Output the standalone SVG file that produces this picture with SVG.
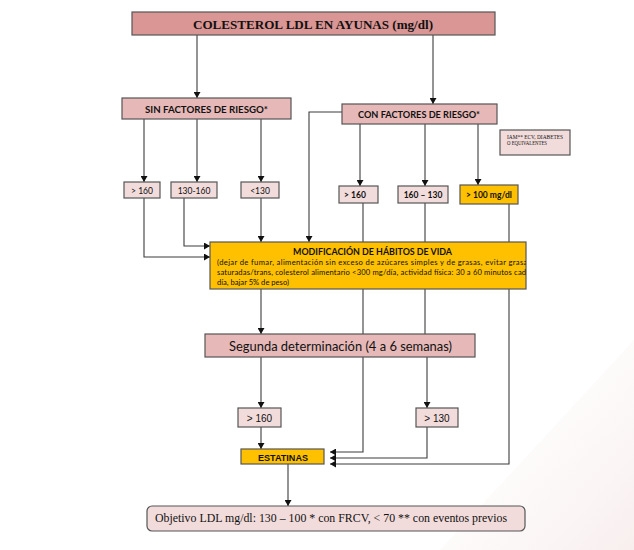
<svg xmlns="http://www.w3.org/2000/svg" width="634" height="550" viewBox="0 0 634 550">
<defs>
<marker id="ah" markerUnits="userSpaceOnUse" markerWidth="7" markerHeight="7" refX="6" refY="3.5" orient="auto">
<path d="M0,0 L6,3.5 L0,7 z" fill="#111"/>
</marker>
<linearGradient id="bg" x1="0.3" y1="0.3" x2="1" y2="1">
<stop offset="0" stop-color="#fdf9f9" stop-opacity="0.3"/>
<stop offset="1" stop-color="#f8eeee"/>
</linearGradient>
<clipPath id="mclip"><rect x="210" y="242" width="316" height="47"/></clipPath>
</defs>
<style>
.c{fill:none;stroke:#3c3c3c;stroke-width:1.1}
.a{marker-end:url(#ah)}
.bx{stroke:#555;stroke-width:1.2}
.t1{fill:#d99694}
.t2{fill:#e6b9b8}
.t3{fill:#f2dcdb}
.or{fill:#ffc000}
.cal{font-family:Lato,"Open Sans","Liberation Sans",sans-serif;fill:#111}
.ser{font-family:"Liberation Serif","Times New Roman",serif;fill:#111}
.ari{font-family:"Liberation Sans",Arial,sans-serif;fill:#111}
</style>
<rect width="634" height="550" fill="#fff"/>
<path d="M634,340 L634,550 L440,550 Z" fill="url(#bg)"/>
<g id="connectors">
<path class="c a" d="M197,35 V98"/>
<path class="c a" d="M433,35 V104"/>
<path class="c a" d="M144,119 V182"/>
<path class="c a" d="M197,119 V182"/>
<path class="c a" d="M261,119 V182"/>
<path class="c a" d="M342,112 H309 V242"/>
<path class="c a" d="M360,124 V186"/>
<path class="c a" d="M425,124 V186"/>
<path class="c a" d="M478,124 V185"/>
<path class="c a" d="M144,198 V257 H210"/>
<path class="c a" d="M184,198 V246 H210"/>
<path class="c a" d="M261,198 V242"/>
<path class="c a" d="M363,203 V452 H330"/>
<path class="c" d="M425,203 V334"/>
<path class="c a" d="M509,204 V464 H330"/>
<path class="c a" d="M261,289 V334"/>
<path class="c a" d="M261,357 V408"/>
<path class="c a" d="M427,357 V408"/>
<path class="c a" d="M427,427 V458 H330"/>
<path class="c a" d="M261,427 V449"/>
<path class="c a" d="M288,464 V506"/>
</g>
<g id="title">
<rect class="bx t1" x="132" y="12" width="363" height="23"/>
<text class="ser" x="193" y="29" font-size="13.5" font-weight="bold" textLength="240" lengthAdjust="spacingAndGlyphs">COLESTEROL LDL EN AYUNAS (mg/dl)</text>
</g>
<g id="sin">
<rect class="bx t2" x="122" y="98" width="169" height="21"/>
<text class="cal" x="145" y="112.5" font-size="10" font-weight="bold" textLength="123" lengthAdjust="spacingAndGlyphs">SIN FACTORES DE RIESGO*</text>
</g>
<g id="con">
<rect class="bx t2" x="342" y="104" width="155" height="20"/>
<text class="cal" x="358" y="118" font-size="10" font-weight="bold" textLength="122" lengthAdjust="spacingAndGlyphs">CON FACTORES DE RIESGO*</text>
</g>
<g id="iam">
<rect class="bx t3" x="500" y="130" width="70" height="25" stroke-width="1"/>
<text class="ser" x="507" y="138.5" font-size="5.5" textLength="56" lengthAdjust="spacingAndGlyphs">IAM** ECV, DIABETES</text>
<text class="ser" x="507" y="145" font-size="5.5" textLength="40" lengthAdjust="spacingAndGlyphs">O EQUIVALENTES</text>
</g>
<g id="s160">
<rect class="bx t3" x="124" y="182" width="36" height="16"/>
<text class="cal" x="142" y="193.5" font-size="8.5" text-anchor="middle">&gt; 160</text>
</g>
<g id="s130160">
<rect class="bx t3" x="171" y="182" width="46" height="16"/>
<text class="cal" x="194" y="193.5" font-size="8.5" text-anchor="middle">130-160</text>
</g>
<g id="s130">
<rect class="bx t3" x="241" y="182" width="38" height="16"/>
<text class="cal" x="260" y="194" font-size="8.5" text-anchor="middle">&lt;130</text>
</g>
<g id="c160">
<rect class="bx t3" x="339" y="186" width="39" height="17"/>
<text class="cal" x="355" y="198" font-size="8.5" font-weight="bold" text-anchor="middle">&gt; 160</text>
</g>
<g id="c160130">
<rect class="bx t3" x="398" y="186" width="50" height="17"/>
<text class="cal" x="423" y="198" font-size="8.5" font-weight="bold" text-anchor="middle">160 – 130</text>
</g>
<g id="c100">
<rect class="bx or" x="460" y="185" width="58" height="19"/>
<text class="cal" x="489" y="198" font-size="8.5" font-weight="bold" text-anchor="middle">&gt; 100 mg/dl</text>
</g>
<g id="modif">
<rect class="bx or" x="210" y="242" width="316" height="47"/>
<text class="cal" x="293" y="254.5" font-size="9" font-weight="bold" textLength="159" lengthAdjust="spacingAndGlyphs">MODIFICACIÓN DE HÁBITOS DE VIDA</text>
<g clip-path="url(#mclip)">
<text class="cal" x="217" y="264.5" font-size="7.6" textLength="314" lengthAdjust="spacing">(dejar de fumar, alimentación sin exceso de azúcares simples y de grasas, evitar grasas</text>
<text class="cal" x="217" y="274.5" font-size="7.6" textLength="313" lengthAdjust="spacing">saturadas/trans,  colesterol alimentario &lt;300 mg/día, actividad física: 30 a 60 minutos cada</text>
<text class="cal" x="217" y="284.5" font-size="7.6">día, bajar 5% de peso)</text>
</g>
</g>
<g id="segunda">
<rect class="bx t2" x="205" y="334" width="270" height="23"/>
<text class="cal" x="229" y="350.5" font-size="13.5" textLength="223" lengthAdjust="spacingAndGlyphs">Segunda determinación (4 a 6 semanas)</text>
</g>
<g id="r160">
<rect class="bx t3" x="238" y="408" width="43" height="19"/>
<text class="ari" x="259.5" y="422" font-size="10" text-anchor="middle">&gt; 160</text>
</g>
<g id="r130">
<rect class="bx t3" x="416" y="408" width="42" height="19"/>
<text class="ari" x="437" y="422" font-size="10" text-anchor="middle">&gt; 130</text>
</g>
<g id="estatinas">
<rect class="bx or" x="241" y="449" width="83" height="15"/>
<text class="ari" x="258" y="460.5" font-size="8.5" font-weight="bold" textLength="50" lengthAdjust="spacingAndGlyphs">ESTATINAS</text>
</g>
<g id="objetivo">
<rect class="bx t3" x="147" y="506" width="378" height="25" rx="5"/>
<text class="ser" x="155" y="522" font-size="12" textLength="352" lengthAdjust="spacingAndGlyphs">Objetivo LDL mg/dl: 130 – 100 * con FRCV, &lt; 70 ** con eventos previos</text>
</g>
</svg>
